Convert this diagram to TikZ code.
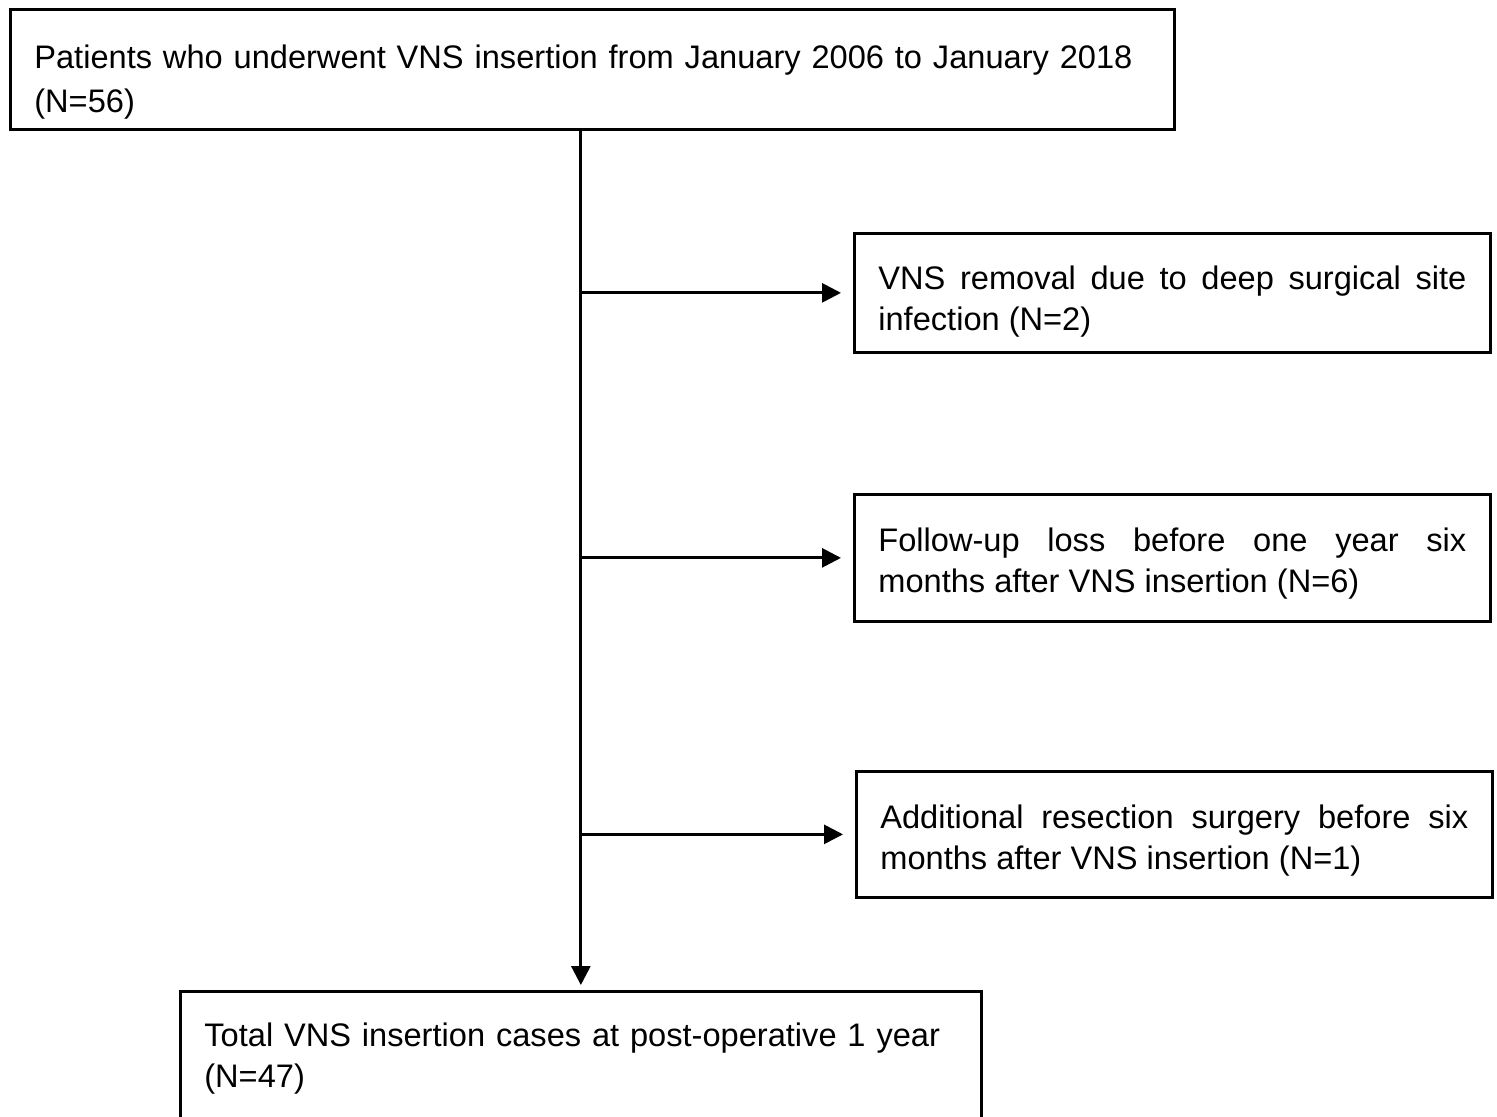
\documentclass[tikz,border=0pt]{standalone}
\usepackage{fontspec}
\setmainfont{Liberation Sans}
\usetikzlibrary{arrows.meta}
\newcommand{\diagfont}{\fontsize{16.3}{20.5}\selectfont\tolerance=10000\hyphenpenalty=10000\relax}
\begin{document}
\begin{tikzpicture}[x=0.5pt,y=-0.5pt,
  box/.style={draw=black, line width=1.35pt, inner xsep=12pt, inner ysep=0pt,
    anchor=north west, font=\diagfont},
  arr/.style={draw=black, line width=1.4pt, -{Triangle[length=9.5pt,width=9.5pt]}}]
\useasboundingbox (0,0) rectangle (1497,1116);
\clip (0,0) rectangle (1497,1116);
\fill[white] (0,0) rectangle (1497,1116);

\node[box, align=left, text width=558pt, text height=29.5pt, text depth=30.5pt,
  font=\fontsize{16.3}{22}\selectfont] (top) at (9,8)
  {Patients who underwent VNS insertion from January 2006 to January 2018\\(N=56)};

\node[box, align=justify, text width=294pt, text height=28pt, text depth=31.5pt] (b1) at (853,232)
  {VNS removal due to deep surgical site infection (N=2)};

\node[box, align=justify, text width=294pt, text height=28.5pt, text depth=35pt] (b2) at (853,493)
  {Follow-up loss before one year six months after VNS insertion (N=6)};

\node[box, align=justify, text width=294pt, text height=28.5pt, text depth=34.5pt] (b3) at (855,770)
  {Additional resection surgery before six months after VNS insertion (N=1)};

\node[box, align=left, text width=376.5pt, text height=27.5pt, text depth=42.5pt] (bot) at (179,990)
  {Total VNS insertion cases at post-operative 1 year\\(N=47)};

\coordinate (vtop) at (top.south -| bot.north);
\draw[arr, shorten >=2.5pt] (vtop) -- (bot.north);
\draw[arr, shorten >=6pt] (b1.west -| bot.north) -- (b1.west);
\draw[arr, shorten >=6pt] (b2.west -| bot.north) -- (b2.west);
\draw[arr, shorten >=6pt] (b3.west -| bot.north) -- (b3.west);
\end{tikzpicture}
\end{document}
